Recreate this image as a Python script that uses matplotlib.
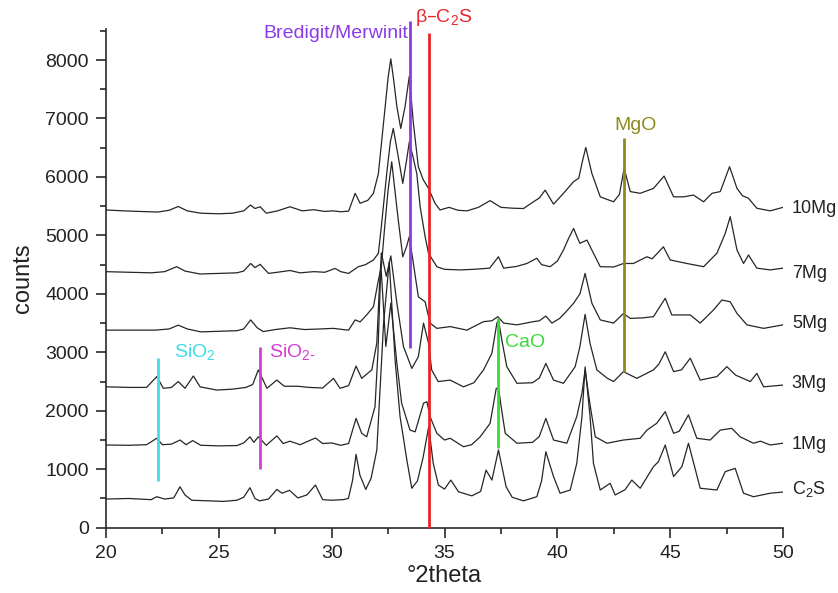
import matplotlib
matplotlib.use("Agg")
import matplotlib.pyplot as plt
from matplotlib.ticker import MultipleLocator

plt.rcParams['font.family'] = ['Liberation Sans', 'DejaVu Sans']
plt.rcParams['mathtext.default'] = 'regular'

# ---------------- data (°2theta, counts) ----------------
mg10 = [(20, 5435), (20.8, 5420), (21.5, 5410), (22.3, 5400), (22.8, 5430), (23.2, 5495),
        (23.6, 5420), (24.2, 5380), (25.0, 5370), (25.6, 5380), (26.1, 5420), (26.4, 5520),
        (26.6, 5460), (26.83, 5490), (27.1, 5380), (27.6, 5420), (28.15, 5490), (28.7, 5420),
        (29.2, 5440), (29.7, 5410), (30.05, 5420), (30.4, 5405), (30.75, 5415), (31.04, 5720),
        (31.26, 5550), (31.6, 5600), (31.85, 5720), (32.07, 6060), (32.22, 6630), (32.37, 7200),
        (32.5, 7700), (32.62, 8020), (32.75, 7650), (32.89, 7200), (33.06, 6830), (33.25, 7200),
        (33.44, 7725), (33.62, 6920), (33.84, 6175), (34.06, 5950), (34.29, 5805), (34.58, 5550),
        (34.8, 5435), (35.2, 5480), (35.6, 5430), (36.0, 5420), (36.5, 5480), (37.02, 5595),
        (37.5, 5480), (38.05, 5465), (38.5, 5460), (38.94, 5575), (39.2, 5640), (39.46, 5775),
        (39.83, 5535), (40.27, 5720), (40.72, 5920), (40.95, 5980), (41.1, 6250), (41.26, 6505),
        (41.53, 6060), (41.9, 5660), (42.49, 5575), (42.75, 5700), (42.96, 6150), (43.23, 5750),
        (43.67, 5720), (44.26, 5805), (44.73, 6015), (45.15, 5660), (45.6, 5660), (46.03, 5690),
        (46.48, 5575), (46.85, 5720), (47.22, 5750), (47.63, 6175), (47.96, 5805), (48.2, 5680),
        (48.47, 5635), (48.84, 5465), (49.43, 5420), (50.0, 5480)]

mg7 = [(20, 4380), (21, 4370), (22, 4360), (22.6, 4380), (23.13, 4465), (23.5, 4390),
       (24.17, 4340), (25, 4350), (25.8, 4360), (26.1, 4390), (26.41, 4520), (26.6, 4450),
       (26.83, 4505), (27.2, 4350), (27.6, 4370), (28.15, 4400), (28.6, 4360), (29.2, 4380),
       (29.7, 4370), (30.15, 4435), (30.4, 4380), (30.75, 4350), (31.18, 4465), (31.5, 4500),
       (31.85, 4580), (32.07, 4695), (32.2, 5150), (32.44, 6060), (32.6, 6600), (32.73, 6830),
       (32.95, 6345), (33.15, 5890), (33.32, 6290), (33.44, 6600), (33.6, 6350), (33.77, 6060),
       (33.92, 5490), (34.14, 4980), (34.29, 4695), (34.66, 4465), (35.0, 4420), (35.69, 4410),
       (36.3, 4420), (37.0, 4440), (37.39, 4635), (37.62, 4440), (38.2, 4470), (38.65, 4520),
       (39.09, 4610), (39.3, 4500), (39.68, 4465), (40.0, 4560), (40.27, 4750), (40.5, 4950),
       (40.72, 5120), (40.9, 4950), (41.0, 4865), (41.31, 4920), (41.6, 4695), (41.9, 4465),
       (42.5, 4460), (42.93, 4520), (43.37, 4520), (43.97, 4635), (44.2, 4600), (44.7, 4805),
       (45.0, 4580), (45.74, 4520), (46.48, 4465), (47.07, 4695), (47.44, 5035), (47.66, 5320),
       (47.96, 4750), (48.25, 4520), (48.47, 4665), (48.84, 4440), (49.43, 4410), (50, 4440)]

mg5 = [(20, 3380), (21, 3380), (22.2, 3380), (22.8, 3400), (23.2, 3465), (23.6, 3400),
       (24.2, 3350), (25, 3360), (25.8, 3370), (26.1, 3400), (26.41, 3555), (26.7, 3420),
       (26.97, 3355), (27.5, 3390), (28.15, 3420), (28.8, 3390), (29.5, 3400), (30.08, 3410),
       (30.5, 3390), (30.75, 3380), (31.04, 3555), (31.26, 3520), (31.55, 3640), (31.85, 3780),
       (32.07, 4235), (32.2, 4465), (32.35, 5150), (32.5, 5775), (32.66, 6260), (32.8, 5775),
       (32.95, 5265), (33.15, 4635), (33.32, 4810), (33.44, 4980), (33.62, 4520), (33.84, 3950),
       (34.14, 3865), (34.36, 3500), (34.66, 3410), (35.25, 3440), (35.99, 3380), (36.73, 3525),
       (37.1, 3540), (37.36, 3610), (37.62, 3500), (38.21, 3470), (38.94, 3525), (39.2, 3540),
       (39.49, 3620), (39.76, 3500), (40.1, 3580), (40.4, 3700), (40.72, 3840), (41.0, 4000),
       (41.23, 4350), (41.53, 3840), (41.9, 3555), (42.49, 3500), (42.93, 3665), (43.23, 3580),
       (43.8, 3590), (44.26, 3610), (44.78, 3925), (45.07, 3640), (45.89, 3640), (46.33, 3500),
       (46.92, 3725), (47.29, 3895), (47.66, 3865), (47.96, 3665), (48.4, 3470), (49.14, 3410),
       (50, 3470)]

mg3 = [(20, 2410), (21, 2400), (21.8, 2400), (22.25, 2585), (22.54, 2385), (22.9, 2400),
       (23.2, 2500), (23.5, 2385), (23.87, 2595), (24.17, 2410), (24.9, 2355), (25.6, 2370),
       (26.2, 2400), (26.5, 2450), (26.75, 2700), (27.13, 2385), (27.57, 2525), (27.9, 2420),
       (28.5, 2420), (29.0, 2400), (29.6, 2390), (30.08, 2555), (30.37, 2385), (30.75, 2430),
       (31.08, 2765), (31.33, 2555), (31.78, 2700), (32.0, 3160), (32.1, 4000), (32.2, 4700),
       (32.42, 4300), (32.62, 4650), (32.89, 3840), (33.18, 3100), (33.55, 2725), (33.84, 2925),
       (34.07, 3500), (34.29, 3160), (34.43, 2700), (34.72, 2500), (35.25, 2525), (35.84, 2410),
       (36.3, 2480), (36.73, 2700), (37.1, 2985), (37.32, 3500), (37.39, 3555), (37.54, 3210),
       (37.76, 2755), (38.21, 2470), (38.9, 2480), (39.2, 2560), (39.49, 2810), (39.83, 2525),
       (40.27, 2470), (40.79, 2755), (41.0, 3100), (41.23, 3650), (41.45, 3150), (41.75, 2700),
       (42.2, 2560), (42.49, 2500), (42.93, 2670), (43.52, 2555), (44.26, 2700), (44.5, 2800),
       (44.78, 3010), (45.15, 2670), (45.5, 2700), (45.89, 2900), (46.33, 2525), (47.07, 2585),
       (47.51, 2755), (47.9, 2610), (48.55, 2500), (48.84, 2640), (49.14, 2410), (50, 2440)]

mg1 = [(20, 1415), (21, 1410), (21.8, 1420), (22.25, 1530), (22.5, 1420), (22.9, 1430),
       (23.28, 1500), (23.55, 1420), (23.84, 1490), (24.2, 1410), (25.0, 1400), (25.8, 1405),
       (26.1, 1450), (26.38, 1555), (26.55, 1460), (26.75, 1555), (27.1, 1410), (27.57, 1570),
       (27.85, 1440), (28.15, 1480), (28.6, 1420), (29.28, 1535), (29.6, 1440), (30.0, 1450),
       (30.4, 1410), (30.75, 1440), (31.08, 1870), (31.33, 1615), (31.55, 1555), (31.92, 2070),
       (32.05, 3000), (32.18, 4500), (32.4, 3100), (32.62, 3840), (32.89, 2810), (33.1, 2130),
       (33.47, 1670), (33.7, 1640), (34.07, 2130), (34.22, 2155), (34.36, 1900), (34.66, 1615),
       (35.0, 1500), (35.25, 1530), (35.84, 1385), (36.2, 1420), (36.58, 1555), (37.02, 1785),
       (37.29, 2380), (37.39, 2400), (37.51, 2070), (37.69, 1615), (38.21, 1445), (38.9, 1460),
       (39.2, 1560), (39.49, 1870), (39.83, 1500), (40.42, 1445), (40.86, 1900), (41.09, 2300),
       (41.23, 2700), (41.45, 2100), (41.68, 1555), (42.2, 1445), (42.93, 1500), (43.67, 1530),
       (43.97, 1670), (44.4, 1785), (44.78, 1985), (45.15, 1615), (45.4, 1650), (45.81, 1930),
       (46.18, 1530), (46.77, 1500), (47.22, 1670), (47.73, 1700), (48.1, 1555), (48.69, 1445),
       (49.0, 1480), (49.43, 1415), (50, 1445)]

c2s = [(20, 490), (21, 500), (22, 480), (22.25, 530), (22.6, 490), (23.0, 510), (23.28, 700),
       (23.5, 560), (23.8, 470), (24.5, 460), (25.2, 450), (25.8, 470), (26.1, 520), (26.38, 685),
       (26.6, 500), (26.8, 460), (27.2, 490), (27.57, 655), (27.8, 590), (28.13, 640), (28.5, 510),
       (28.9, 560), (29.28, 730), (29.6, 480), (30.0, 470), (30.5, 480), (30.74, 500), (30.92, 800),
       (31.08, 1255), (31.25, 900), (31.51, 655), (31.75, 850), (32.0, 1330), (32.3, 3500),
       (32.55, 4550), (32.81, 2870), (33.03, 1900), (33.33, 1160), (33.55, 675), (33.8, 800),
       (34.05, 1200), (34.3, 1730), (34.5, 1100), (34.73, 730), (35.0, 660), (35.28, 815),
       (35.62, 615), (36.21, 545), (36.6, 620), (36.84, 985), (37.1, 815), (37.39, 1330),
       (37.73, 700), (38.0, 520), (38.5, 460), (39.09, 530), (39.3, 800), (39.49, 1300),
       (39.83, 875), (40.12, 590), (40.57, 645), (40.86, 1100), (41.09, 1900), (41.23, 2750),
       (41.45, 1900), (41.6, 1100), (41.9, 645), (42.34, 760), (42.56, 560), (43.0, 650),
       (43.3, 815), (43.67, 675), (44.26, 1045), (44.48, 1130), (44.78, 1415), (45.15, 875),
       (45.52, 1045), (45.81, 1445), (46.33, 675), (47.07, 645), (47.44, 960), (47.88, 1015),
       (48.25, 590), (48.69, 530), (49.43, 590), (50, 610)]

trace_names = ["10Mg", "7Mg", "5Mg", "3Mg", "1Mg", "C$_2$S"]
trace_data = [mg10, mg7, mg5, mg3, mg1, c2s]
trace_label_y = [5460, 4350, 3485, 2460, 1430, 660]

phase_names = ["SiO$_2$", "SiO$_{2\\text{-}}$", "Bredigit/Merwinit", "β–C$_2$S", "CaO", "MgO"]
phase_pos = [22.29, 26.81, 33.47, 34.32, 37.36, 42.96]
phase_ymin = [800, 1000, 3075, 0, 1360, 2670]
phase_ymax = [2900, 3085, 8660, 8470, 3580, 6660]
phase_colors = ["#3fdde6", "#d23fd2", "#8a3be6", "#e8262a", "#38dc38", "#8f8a1e"]
# label anchor (x, y, horizontal alignment)
phase_label_xy = [(23.0, 3000, "left"), (27.23, 3000, "left"), (33.39, 8450, "right"),
                  (33.70, 8720, "left"), (37.7, 3160, "left"), (43.48, 6875, "center")]

# ---------------- figure ----------------
fig = plt.figure(figsize=(8.38, 5.93), dpi=100)
ax = fig.add_axes([0.1265, 0.1101, 0.9344 - 0.1265, 0.951 - 0.1101])

for data in trace_data:
    xs = [p[0] for p in data]
    ys = [p[1] for p in data]
    ax.plot(xs, ys, color="#262626", lw=0.9, zorder=3)

for name, y in zip(trace_names, trace_label_y):
    ax.text(50.39, y, name, fontsize=13, color="#222222", ha="left", va="center",
            clip_on=False)

for name, x, y0, y1, col, (lx, ly, ha) in zip(phase_names, phase_pos, phase_ymin,
                                               phase_ymax, phase_colors, phase_label_xy):
    ax.plot([x, x], [y0, y1], color=col, lw=2.0, zorder=4, clip_on=False,
            solid_capstyle="butt")
    ax.text(lx, ly, name, color=col, fontsize=14, ha=ha, va="center", clip_on=False)

ax.set_xlim(20, 50)
ax.set_ylim(0, 8530)
ax.xaxis.set_major_locator(MultipleLocator(5))
ax.xaxis.set_minor_locator(MultipleLocator(2.5))
ax.yaxis.set_major_locator(MultipleLocator(1000))
ax.yaxis.set_minor_locator(MultipleLocator(500))

for s in ["top", "right"]:
    ax.spines[s].set_visible(False)
for s in ["left", "bottom"]:
    ax.spines[s].set_linewidth(1.2)
    ax.spines[s].set_color("#2a2a2a")

ax.tick_params(which="major", direction="out", length=7, width=1.2, color="#2a2a2a",
               labelsize=14, labelcolor="#222222", pad=5.5)
ax.tick_params(which="minor", direction="out", length=4.5, width=1.2, color="#2a2a2a")

ax.set_xlabel("°2theta", fontsize=17, color="#222222", labelpad=2)
ax.set_ylabel("counts", fontsize=17, color="#222222", labelpad=8)

fig.savefig("out.png", dpi=100)
